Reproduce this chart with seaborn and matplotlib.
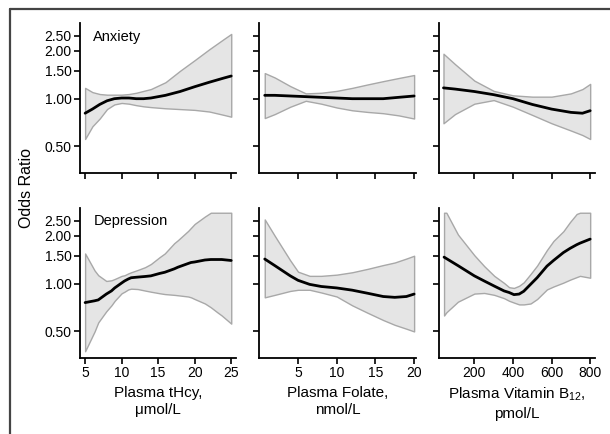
import numpy as np
import pandas as pd
import matplotlib
matplotlib.use("Agg")
import matplotlib.pyplot as plt
import seaborn as sns
from matplotlib.lines import Line2D
from matplotlib.ticker import FixedLocator, NullLocator, FormatStrFormatter

# Row / column labels
rows = ["Anxiety", "Depression"]
xlabels = ["Plasma tHcy,\n\u03bcmol/L",
           "Plasma Folate,\nnmol/L",
           "Plasma Vitamin B$\\mathregular{_{12}}$,\npmol/L"]
xticks = [[5, 10, 15, 20, 25], [5, 10, 15, 20], [200, 400, 600, 800]]
xlims = [(4.3, 25.7), (0.0, 20.2), (15, 825)]
yticks = [0.5, 1.0, 1.5, 2.0, 2.5]

# Anxiety vs tHcy
a1_x = [5, 6, 7, 8, 9, 10, 11, 12, 13, 14, 16, 18, 20, 22, 24, 25]
a1_or = [0.81, 0.86, 0.92, 0.97, 1.00, 1.01, 1.01, 1.00, 1.00, 1.01, 1.05, 1.11, 1.19, 1.27, 1.35, 1.39]
a1_hi = [1.17, 1.10, 1.07, 1.06, 1.06, 1.06, 1.07, 1.09, 1.12, 1.15, 1.27, 1.50, 1.75, 2.05, 2.38, 2.56]
a1_lo = [0.557, 0.67, 0.75, 0.86, 0.92, 0.94, 0.93, 0.91, 0.895, 0.885, 0.87, 0.86, 0.85, 0.83, 0.79, 0.77]

# Anxiety vs folate
a2_x = [0.7, 2, 4, 6, 8, 10, 12, 14, 16, 18, 20]
a2_or = [1.05, 1.05, 1.04, 1.03, 1.02, 1.01, 1.00, 1.00, 1.00, 1.02, 1.04]
a2_hi = [1.45, 1.36, 1.20, 1.08, 1.09, 1.12, 1.17, 1.23, 1.29, 1.35, 1.41]
a2_lo = [0.755, 0.80, 0.89, 0.97, 0.93, 0.88, 0.845, 0.825, 0.81, 0.785, 0.75]

# Anxiety vs B12
a3_x = [40, 100, 200, 300, 400, 500, 600, 700, 760, 800]
a3_or = [1.17, 1.15, 1.11, 1.06, 1.00, 0.92, 0.86, 0.82, 0.81, 0.84]
a3_hi = [1.92, 1.65, 1.30, 1.12, 1.05, 1.03, 1.03, 1.08, 1.15, 1.24]
a3_lo = [0.70, 0.80, 0.93, 0.98, 0.89, 0.79, 0.70, 0.63, 0.59, 0.557]

# Depression vs tHcy
d1_x = [5, 6.3, 6.8, 7.9, 8.6, 9.05, 10.0, 10.4, 10.9, 11.3, 12.2, 13.2, 14.0, 15.2, 15.9,
        17.2, 17.7, 19.1, 19.5, 20.0, 21.4, 22.2, 23.1, 23.7, 25]
d1_or = [0.76, 0.78, 0.79, 0.86, 0.90, 0.94, 1.01, 1.04, 1.07, 1.09, 1.10, 1.11, 1.12, 1.16, 1.18,
         1.24, 1.27, 1.34, 1.36, 1.37, 1.41, 1.42, 1.42, 1.42, 1.40]
d1_hi = [1.55, 1.21, 1.13, 1.04, 1.05, 1.07, 1.12, 1.13, 1.16, 1.18, 1.22, 1.27, 1.33, 1.47, 1.55,
         1.80, 1.88, 2.15, 2.25, 2.38, 2.65, 2.8, 2.8, 2.8, 2.8]
d1_lo = [0.375, 0.50, 0.57, 0.67, 0.73, 0.78, 0.87, 0.89, 0.92, 0.93, 0.925, 0.905, 0.89, 0.87, 0.86,
         0.85, 0.845, 0.83, 0.82, 0.80, 0.75, 0.71, 0.66, 0.63, 0.56]

# Depression vs folate
d2_x = [0.7, 2, 4, 5, 6.5, 8, 10, 12, 14, 16, 17.5, 19, 20]
d2_or = [1.43, 1.30, 1.12, 1.05, 0.99, 0.96, 0.94, 0.91, 0.87, 0.83, 0.82, 0.83, 0.86]
d2_hi = [2.54, 2.00, 1.40, 1.19, 1.12, 1.12, 1.14, 1.18, 1.24, 1.31, 1.36, 1.44, 1.50]
d2_lo = [0.82, 0.85, 0.90, 0.915, 0.915, 0.88, 0.83, 0.73, 0.655, 0.59, 0.55, 0.52, 0.50]

# Depression vs B12
d3_x = [43, 55, 115, 200, 251, 303, 354, 380, 405, 432, 456, 491, 525, 576, 610, 661, 696, 730, 747, 800]
d3_or = [1.47, 1.44, 1.30, 1.12, 1.04, 0.966, 0.90, 0.88, 0.853, 0.86, 0.896, 0.99, 1.09, 1.29, 1.40, 1.57, 1.67, 1.76, 1.80, 1.91]
d3_hi = [2.8, 2.8, 2.04, 1.51, 1.29, 1.12, 1.01, 0.95, 0.94, 0.97, 1.02, 1.15, 1.30, 1.63, 1.86, 2.14, 2.45, 2.75, 2.8, 2.8]
d3_lo = [0.63, 0.66, 0.77, 0.866, 0.874, 0.85, 0.81, 0.78, 0.76, 0.74, 0.74, 0.75, 0.80, 0.92, 0.96, 1.015, 1.06, 1.10, 1.12, 1.09]

panels = [[(a1_x, a1_or, a1_lo, a1_hi), (a2_x, a2_or, a2_lo, a2_hi), (a3_x, a3_or, a3_lo, a3_hi)],
          [(d1_x, d1_or, d1_lo, d1_hi), (d2_x, d2_or, d2_lo, d2_hi), (d3_x, d3_or, d3_lo, d3_hi)]]

sns.set_style("ticks")
plt.rcParams['font.family'] = ['Liberation Sans', 'DejaVu Sans']
plt.rcParams['mathtext.default'] = 'regular'
plt.rcParams['text.color'] = 'black'
plt.rcParams['axes.labelcolor'] = 'black'

fig, axes = plt.subplots(2, 3, figsize=(6.1, 4.34), dpi=100)
fig.subplots_adjust(left=80/610, right=595/610, top=1-23/434, bottom=1-358/434,
                    wspace=0.147, hspace=0.233)

for i in range(2):
    for j in range(3):
        ax = axes[i, j]
        x, orr, lo, hi = panels[i][j]
        df = pd.DataFrame({"x": x, "or": orr, "lo": lo, "hi": hi})
        ax.fill_between(df["x"], df["lo"], df["hi"], facecolor="#e5e5e5",
                        edgecolor="#a8a8a8", linewidth=1.0, zorder=1)
        sns.lineplot(data=df, x="x", y="or", ax=ax, color="black", linewidth=2.0, zorder=3)
        ax.set_yscale("log")
        ax.set_ylim(0.34, 3.0)
        ax.yaxis.set_major_locator(FixedLocator(yticks))
        ax.yaxis.set_minor_locator(NullLocator())
        ax.yaxis.set_major_formatter(FormatStrFormatter("%.2f"))
        ax.set_xlim(*xlims[j])
        ax.set_xticks(xticks[j])
        ax.set_ylabel("")
        ax.set_xlabel("")
        sns.despine(ax=ax)
        for s in ["left", "bottom"]:
            ax.spines[s].set_linewidth(1.3)
            ax.spines[s].set_color("black")
        ax.tick_params(axis="both", direction="out", length=4, width=1.2,
                       colors="black", labelsize=10, pad=2)
        if j > 0:
            ax.tick_params(axis="y", labelleft=False)
        if i == 0:
            ax.tick_params(axis="x", labelbottom=False)
        else:
            ax.set_xlabel(xlabels[j], fontsize=11, labelpad=4, linespacing=1.3)
        if j == 0:
            ax.text(0.085, 0.91, rows[i], transform=ax.transAxes, fontsize=10.5,
                    va="center", ha="left")

fig.text(0.043, 0.567, "Odds Ratio", rotation=90, fontsize=11.5, va="center", ha="center")

# outer frame lines (top and left)
fig.add_artist(Line2D([10/610, 1.0], [1-9/434, 1-9/434], color="#444444", lw=1.6,
                      transform=fig.transFigure))
fig.add_artist(Line2D([10/610, 10/610], [0.0, 1-9/434], color="#444444", lw=1.6,
                      transform=fig.transFigure))

plt.savefig("out.png", dpi=100)
